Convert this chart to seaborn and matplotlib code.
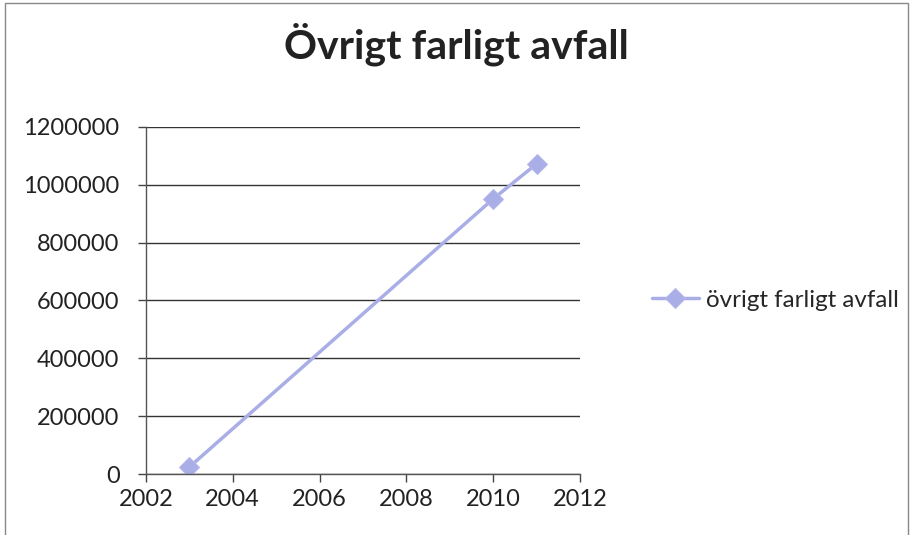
import matplotlib
matplotlib.use("Agg")
import matplotlib.pyplot as plt
import seaborn as sns
import pandas as pd
from matplotlib.patches import Rectangle

years = [2003, 2010, 2011]
values = [24000, 951000, 1072000]
series_name = "övrigt farligt avfall"
title = "Övrigt farligt avfall"
yticks = [0, 200000, 400000, 600000, 800000, 1000000, 1200000]
xticks = [2002, 2004, 2006, 2008, 2010, 2012]

sns.set_theme(style="white")
plt.rcParams['font.family'] = ['Lato', 'DejaVu Sans']

df = pd.DataFrame({"year": years, "value": values, "series": series_name})

fig = plt.figure(figsize=(9.12, 5.35), dpi=100)
ax = fig.add_axes([0.160, 0.114, 0.476, 0.649])

sns.lineplot(data=df, x="year", y="value", hue="series", palette=["#aaaee6"],
             marker="D", markersize=10, linewidth=2.5, markeredgecolor="#b4b8ec",
             ax=ax)

ax.set_xlim(2002, 2012)
ax.set_ylim(0, 1200000)
ax.set_xticks(xticks)
ax.set_yticks(yticks)
ax.set_xticklabels([str(t) for t in xticks])
ax.set_yticklabels([str(t) for t in yticks])
ax.set_xlabel("")
ax.set_ylabel("")
ax.yaxis.grid(True, color="#333333", linewidth=1)
ax.xaxis.grid(False)
for s in ["top", "right"]:
    ax.spines[s].set_visible(False)
for s in ["left", "bottom"]:
    ax.spines[s].set_color("#555555")
    ax.spines[s].set_linewidth(1)
ax.tick_params(axis="both", which="major", labelsize=17, colors="#444444",
               labelcolor="#222222", length=6, width=1, direction="out",
               left=True, bottom=True)
ax.tick_params(axis="y", pad=13)
ax.tick_params(axis="x", pad=5)

leg = ax.legend(loc="center left", bbox_to_anchor=(1.115, 0.5), frameon=False,
                fontsize=17.4, handlelength=1.95, handletextpad=0.28)

fig.text(0.501, 0.918, title, ha="center", va="center", fontsize=29.5,
         fontweight="bold", color="#222222")

fig.patches.append(Rectangle((0.006, -0.01), 0.99, 1.004, transform=fig.transFigure,
                             fill=False, edgecolor="#888888", linewidth=1))

fig.savefig("out.png", dpi=100)
